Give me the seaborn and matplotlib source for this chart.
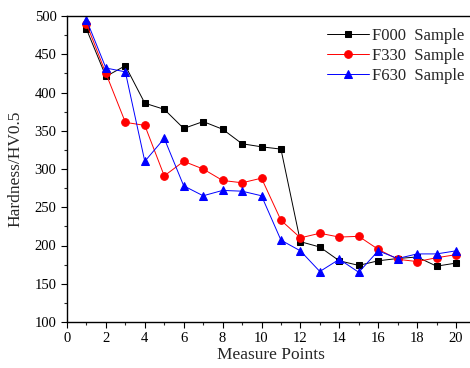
import matplotlib
matplotlib.use("Agg")
import matplotlib.pyplot as plt
import seaborn as sns
from matplotlib.ticker import MultipleLocator

points = list(range(1, 21))
f000 = [483, 421, 435, 386, 378, 353, 362, 352, 333, 329, 326, 205, 198, 180, 174, 180, 183, 185, 173, 177]
f330 = [490, 425, 361, 357, 291, 310, 300, 285, 282, 288, 233, 210, 216, 211, 212, 195, 182, 179, 184, 188]
f630 = [495, 432, 427, 310, 340, 278, 265, 272, 271, 265, 207, 193, 166, 182, 165, 193, 183, 189, 189, 193]
labels = ["F000  Sample", "F330  Sample", "F630  Sample"]

sns.set_style("ticks")
plt.rcParams['font.family'] = ['Liberation Serif', 'DejaVu Serif']

fig = plt.figure(figsize=(4.7, 3.68), dpi=100)
# axes runs a bit past the right edge, like the cropped original
ax = fig.add_axes([67 / 470, 46 / 368, 21 * 19.45 / 470, 306 / 368])

series = [(f000, "black", "s", 5), (f330, "red", "o", 5.5), (f630, "blue", "^", 6)]
for (vals, col, mk, ms), lab in zip(series, labels):
    sns.lineplot(x=points, y=vals, ax=ax, color=col, marker=mk, markersize=ms,
                 markeredgecolor=col, linewidth=0.7, label=lab)

ax.set_xlim(0, 21)
ax.set_ylim(100, 500)
ax.xaxis.set_major_locator(MultipleLocator(2))
ax.xaxis.set_minor_locator(MultipleLocator(1))
ax.yaxis.set_major_locator(MultipleLocator(50))
ax.yaxis.set_minor_locator(MultipleLocator(25))
ax.tick_params(which='major', direction='out', length=4, width=0.8, labelsize=10.5, colors='black')
ax.tick_params(which='minor', direction='out', length=2.5, width=0.8)
for s in ax.spines.values():
    s.set_linewidth(1.0)
    s.set_color('black')

ax.set_xlabel("Measure Points", fontsize=12.5, labelpad=1)
ax.set_ylabel("Hardness/HV0.5", fontsize=12.5, labelpad=8)

ax.legend(loc='upper right', bbox_to_anchor=(476 / 470, 1 - 16 / 368), bbox_transform=fig.transFigure,
          frameon=False, fontsize=12, handlelength=2.5, handletextpad=0.2, labelspacing=0.25,
          borderpad=0.2)

fig.savefig("out.png", dpi=100)
